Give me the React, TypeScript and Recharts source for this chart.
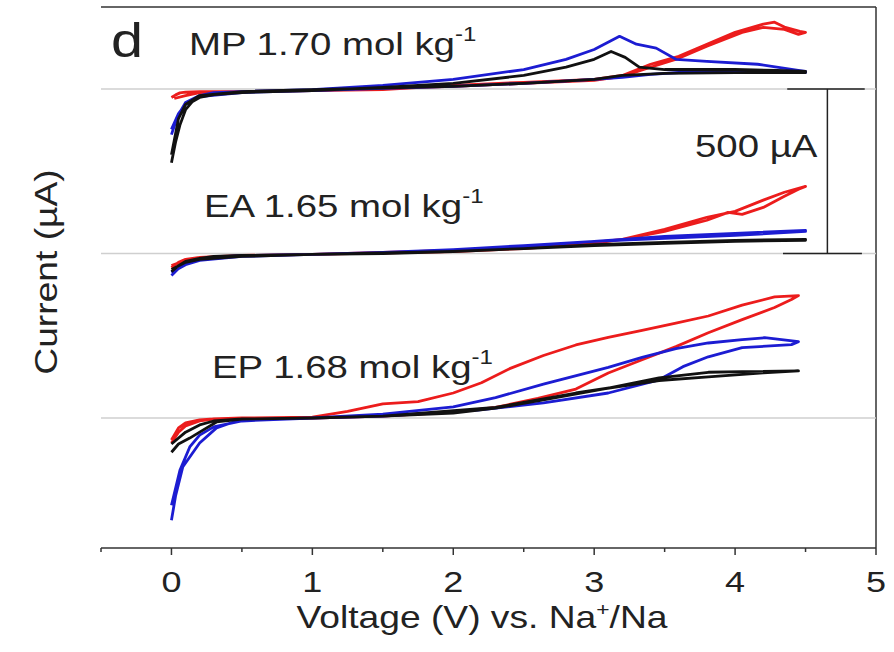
import { LineChart, Line, XAxis, YAxis, ReferenceLine, Customized } from 'recharts'

// CV sweeps, [voltage (V), current (µA)], forward scan then reverse scan
const MP_RED: [number, number][] = [
  [0, -26], [0.03, -18], [0.06, -12], [0.1, -10], [0.2, -8], [0.5, -8], [1, -5], [1.5, -2],
  [2, 11], [2.5, 20], [3, 29], [3.2, 41], [3.4, 75], [3.6, 99], [3.8, 136], [4, 172],
  [4.2, 197], [4.28, 203], [4.35, 188], [4.46, 175], [4.5, 172],
  [4.45, 166], [4.35, 181], [4.2, 187], [4.05, 172], [3.8, 130], [3.6, 93], [3.4, 66],
  [3.2, 38], [3, 26], [2.5, 17], [2, 8], [1, -5], [0.5, -8], [0.2, -11], [0.1, -20], [0.02, -29],
]
const MP_BLUE: [number, number][] = [
  [0, -139], [0.03, -100], [0.05, -78], [0.1, -41], [0.2, -20], [0.3, -11], [0.5, -8], [1, -2],
  [1.5, 11], [2, 29], [2.5, 59], [2.8, 90], [3, 120], [3.18, 160], [3.3, 136], [3.44, 124],
  [3.58, 90], [3.8, 84], [4.16, 75], [4.46, 56], [4.5, 53],
  [4.5, 50], [4.2, 50], [3.8, 53], [3.6, 50], [3.4, 44], [3.2, 35], [3, 29], [2.5, 17],
  [2, 8], [1.5, 2], [1, -5], [0.5, -11], [0.2, -23], [0.1, -47], [0.05, -75], [0, -123],
]
const MP_BLACK: [number, number][] = [
  [0, -224], [0.03, -160], [0.06, -110], [0.1, -63], [0.15, -38], [0.2, -26], [0.3, -17],
  [0.5, -11], [1, -5], [1.5, 5], [2, 17], [2.5, 41], [2.8, 66], [3, 90], [3.12, 114],
  [3.22, 96], [3.32, 66], [3.5, 59], [4, 59], [4.3, 56], [4.5, 53],
  [4.5, 50], [4, 50], [3.5, 47], [3.2, 41], [3, 29], [2.5, 17], [2, 8], [1, -2], [0.5, -8],
  [0.2, -20], [0.1, -47], [0.05, -90], [0, -200],
]

const EA_RED: [number, number][] = [
  [0, -43], [0.05, -27], [0.1, -18], [0.2, -12], [0.5, -6], [1, -3], [1.5, 3], [2, 9],
  [2.5, 18], [3, 34], [3.2, 43], [3.5, 73], [3.8, 110], [4, 128], [4.2, 162], [4.35, 186], [4.5, 204],
  [4.45, 195], [4.35, 174], [4.2, 140], [4.05, 119], [3.95, 125], [3.8, 101], [3.5, 67],
  [3.2, 43], [3, 31], [2.5, 15], [2, 6], [1, -3], [0.5, -6], [0.2, -12], [0.1, -21], [0, -37],
]
const EA_BLUE: [number, number][] = [
  [0, -67], [0.05, -46], [0.1, -30], [0.2, -18], [0.3, -12], [0.5, -6], [1, -3], [1.5, 3],
  [2, 12], [2.5, 24], [3, 37], [3.5, 52], [4, 61], [4.5, 70],
  [4.5, 67], [4, 55], [3.5, 46], [3, 37], [2.5, 21], [2, 9], [1, -3], [0.5, -9], [0.2, -21],
  [0.1, -34], [0, -58],
]
const EA_BLACK: [number, number][] = [
  [0, -55], [0.05, -37], [0.1, -24], [0.2, -15], [0.3, -9], [0.5, -6], [1, -3], [1.5, 0],
  [2, 6], [2.5, 15], [3, 27], [3.5, 34], [4, 40], [4.5, 43],
  [4.5, 40], [4, 37], [3.5, 31], [3, 24], [2.5, 15], [2, 6], [1, -3], [0.5, -9], [0.2, -18],
  [0.1, -27], [0, -49],
]

const EP_RED: [number, number][] = [
  [0, -76], [0.05, -43], [0.1, -24], [0.2, -9], [0.3, -3], [0.5, 0], [1, 3], [1.25, 20],
  [1.5, 43], [1.75, 50], [2, 76], [2.2, 107], [2.4, 150], [2.64, 190], [2.87, 222], [3.1, 245],
  [3.34, 266], [3.58, 288], [3.81, 310], [4.05, 343], [4.28, 368], [4.45, 372],
  [4.4, 360], [4.28, 336], [4.05, 299], [3.81, 259], [3.58, 217], [3.34, 177], [3.1, 137],
  [2.87, 88], [2.6, 60], [2.3, 32], [2, 18], [1.5, 6], [1, 0], [0.5, 0], [0.3, -3],
  [0.2, -6], [0.1, -15], [0.05, -30], [0, -67],
]
const EP_BLUE: [number, number][] = [
  [0, -311], [0.03, -235], [0.08, -149], [0.2, -76], [0.32, -30], [0.48, -6], [1, 0],
  [1.5, 12], [2, 34], [2.3, 62], [2.64, 103], [3.1, 154], [3.34, 184], [3.58, 211],
  [3.81, 228], [4.05, 238], [4.21, 244], [4.45, 232],
  [4.4, 223], [4.05, 214], [3.81, 186], [3.63, 156], [3.46, 116], [3.1, 76], [2.64, 46],
  [2.17, 24], [1.5, 6], [1, 0], [0.5, -9], [0.3, -27], [0.2, -52], [0.13, -88], [0.06, -159], [0, -265],
]
const EP_BLACK: [number, number][] = [
  [0, -104], [0.05, -79], [0.13, -61], [0.2, -43], [0.32, -12], [0.5, -3], [1, 0], [1.5, 6],
  [2, 15], [2.3, 30], [2.64, 55], [3.1, 91], [3.46, 122], [3.81, 139], [4.05, 141], [4.45, 143],
  [4.2, 137], [3.81, 125], [3.46, 114], [2.87, 76], [2.3, 32], [1.5, 6], [1, 0], [0.5, -3],
  [0.3, -9], [0.2, -21], [0.1, -43], [0, -79],
]

// vertical stacking of the three electrolytes (µA)
const EP_OFFSET = 0
const EA_OFFSET = 500
const MP_OFFSET = 1000

const VOLT_TICKS = [-0.5, 0, 0.5, 1, 1.5, 2, 2.5, 3, 3.5, 4, 4.5, 5]
const Y_MIN = -395
const Y_MAX = 1249

const RED = '#ec1c1c'
const BLUE = '#1c1cd2'
const BLACK = '#111111'
const INK = '#222222'
const FONT = '"Liberation Sans", Arial, Helvetica, sans-serif'

const shift = (pts: [number, number][], off: number) => pts.map(([v, i]) => ({ v, i: i + off }))

const series = [
  { id: 'mp-red', color: RED, data: shift(MP_RED, MP_OFFSET) },
  { id: 'mp-blue', color: BLUE, data: shift(MP_BLUE, MP_OFFSET) },
  { id: 'mp-black', color: BLACK, data: shift(MP_BLACK, MP_OFFSET) },
  { id: 'ea-red', color: RED, data: shift(EA_RED, EA_OFFSET) },
  { id: 'ea-blue', color: BLUE, data: shift(EA_BLUE, EA_OFFSET) },
  { id: 'ea-black', color: BLACK, data: shift(EA_BLACK, EA_OFFSET) },
  { id: 'ep-red', color: RED, data: shift(EP_RED, EP_OFFSET) },
  { id: 'ep-blue', color: BLUE, data: shift(EP_BLUE, EP_OFFSET) },
  { id: 'ep-black', color: BLACK, data: shift(EP_BLACK, EP_OFFSET) },
]

// the figure's lettering is wide, so text is drawn stretched sideways
function SText({ x, y, size, anchor = 'start', rotate = 0, children }: any) {
  const t = `translate(${x},${y})${rotate ? ` rotate(${rotate})` : ''} scale(1.2,1)`
  return (
    <text transform={t} fontSize={size} textAnchor={anchor} fill={INK} fontFamily={FONT}>
      {children}
    </text>
  )
}

function XTick({ x, y, payload }: any) {
  const major = Number.isInteger(payload.value)
  return (
    <g>
      <line x1={x} x2={x} y1={y} y2={y + (major ? 7 : 4)} stroke="#333" strokeWidth={1.5} />
      {major && (
        <SText x={x} y={y + 44} size={30} anchor="middle">
          {payload.value}
        </SText>
      )}
    </g>
  )
}

function XTitle() {
  return (
    <SText x={482} y={628} size={31} anchor="middle">
      Voltage (V) vs. Na
      <tspan fontSize={19} dy={-12}>+</tspan>
      <tspan dy={12}>/Na</tspan>
    </SText>
  )
}

function Annotations() {
  return (
    <g>
      <SText x={57} y={272} size={31} anchor="middle" rotate={-90}>
        Current (µA)
      </SText>
      <SText x={111} y={57} size={48}>d</SText>
      <SText x={189} y={55} size={32}>
        MP 1.70 mol kg<tspan fontSize={20} dy={-14}>-1</tspan>
      </SText>
      <SText x={204} y={217} size={32}>
        EA 1.65 mol kg<tspan fontSize={20} dy={-14}>-1</tspan>
      </SText>
      <SText x={212} y={378} size={32}>
        EP 1.68 mol kg<tspan fontSize={20} dy={-14}>-1</tspan>
      </SText>
      <SText x={695} y={157} size={32}>500 µA</SText>
    </g>
  )
}

export default function App() {
  return (
    <div style={{ position: 'absolute', left: 0, top: 0, width: 894, height: 652, background: '#fff' }}>
      <LineChart width={894} height={652} margin={{ top: 7, right: 18, bottom: 8, left: 101 }}>
        <XAxis
          dataKey="v"
          type="number"
          domain={[-0.5, 5]}
          ticks={VOLT_TICKS}
          interval={0}
          allowDataOverflow
          tickLine={false}
          tickSize={0}
          tickMargin={0}
          tick={<XTick />}
          axisLine={{ stroke: '#333', strokeWidth: 1.5 }}
          height={96}
          label={<XTitle />}
        />
        <YAxis
          type="number"
          domain={[Y_MIN, Y_MAX]}
          allowDataOverflow
          width={0}
          tick={false}
          tickLine={false}
          axisLine={{ stroke: '#333', strokeWidth: 1.5 }}
        />
        <ReferenceLine y={Y_MAX} stroke="#333" strokeWidth={1.5} />
        <ReferenceLine x={5} stroke="#333" strokeWidth={1.5} />
        <ReferenceLine y={EP_OFFSET} stroke="#cfcfcf" strokeWidth={1.5} />
        <ReferenceLine y={EA_OFFSET} stroke="#cfcfcf" strokeWidth={1.5} />
        <ReferenceLine y={MP_OFFSET} stroke="#cfcfcf" strokeWidth={1.5} />
        {/* 500 µA scale bar */}
        <ReferenceLine segment={[{ x: 4.37, y: MP_OFFSET }, { x: 4.92, y: MP_OFFSET }]} stroke="#222" strokeWidth={1.5} />
        <ReferenceLine segment={[{ x: 4.34, y: EA_OFFSET }, { x: 4.9, y: EA_OFFSET }]} stroke="#222" strokeWidth={1.5} />
        <ReferenceLine segment={[{ x: 4.655, y: EA_OFFSET }, { x: 4.655, y: MP_OFFSET }]} stroke="#222" strokeWidth={1.5} />
        {series.map((s) => (
          <Line
            key={s.id}
            data={s.data}
            dataKey="i"
            type="linear"
            stroke={s.color}
            strokeWidth={2.8}
            strokeLinejoin="round"
            dot={false}
            activeDot={false}
            isAnimationActive={false}
          />
        ))}
        <Customized component={Annotations} />
      </LineChart>
    </div>
  )
}
